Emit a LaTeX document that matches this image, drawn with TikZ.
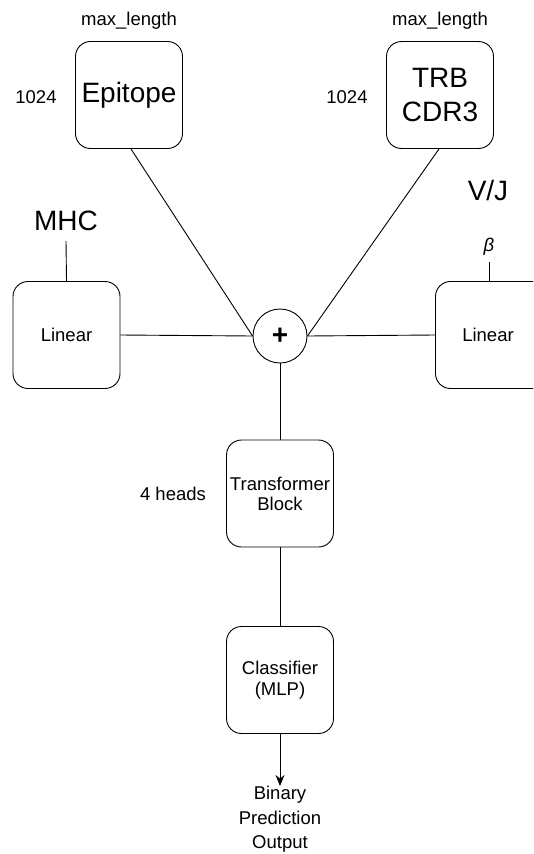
\documentclass[tikz,border=0pt]{standalone}
\usepackage{fontspec}
\setmainfont{Liberation Sans}
\usetikzlibrary{arrows.meta}
\begin{document}
\begin{tikzpicture}[x=1pt,y=-1pt,
  box/.style={draw,line width=0.9pt,rounded corners=15pt,minimum width=107pt,minimum height=107pt,inner sep=0pt,align=center,font=\fontsize{18.5}{21}\selectfont},
  bigbox/.style={box,font=\fontsize{28}{34}\selectfont},
  small/.style={font=\fontsize{18.5}{22}\selectfont,inner sep=0pt,align=center},
  big/.style={font=\fontsize{28}{34}\selectfont,inner sep=0pt},
  conn/.style={line width=0.9pt}]
\useasboundingbox (0,0) rectangle (533,854);
\clip (0,0) rectangle (533,854);
\node[bigbox] (ep) at (129,95) {Epitope};
\node[bigbox] (trb) at (440,95) {TRB\\CDR3};
\node[small] (ml1) at (129,21) {max\_length};
\node[small] (ml2) at (440,21) {max\_length};
\node[small] (n1) at (36,97) {1024};
\node[small] (n2) at (347,97) {1024};
\node[big] (vj) at (488,190) {V/J};
\node[big] (mhc) at (66,221) {MHC};
\node[small] (beta) at (489,247) {\itshape β};
\node[box] (linL) at (66.5,335) {Linear};
\node[box,minimum width=120pt] (linR) at (495.5,335) {};
\node[small] (linRt) at (488,335) {Linear};
\node[draw,circle,line width=0.9pt,minimum size=54pt,inner sep=0pt,font=\fontsize{28}{30}\selectfont\bfseries] (plus) at (280,336) {+};
\node[box,font=\fontsize{18.5}{20}\selectfont] (tb) at (280,493.5) {Transformer\\Block};
\node[small] (heads) at (173,494) {4 heads};
\node[box] (cls) at (280,680) {Classifier\\(MLP)};
\node[small,font=\fontsize{18.5}{24.5}\selectfont,anchor=north] (out) at (280,786) {Binary\\Prediction\\Output};
\coordinate (mhcb) at (66,241);
\coordinate (betab) at (489,262);
\draw[conn] (mhcb) -- (linL.north);
\draw[conn] (betab) -- (betab |- linR.north);
\draw[conn] (ep.south) ++(2,0) coordinate (eps) -- (plus.west);
\draw[conn] (trb.south) ++(-1,0) coordinate (trbs) -- (plus.east);
\draw[conn] (linL.east) -- (plus.west);
\draw[conn] (plus.east) -- (linR.west);
\draw[conn] (plus.south) -- (tb.north);
\draw[conn] (tb.south) -- (cls.north);
\draw[conn,-{Stealth[length=11pt,width=9pt]}] (cls.south) -- (out.north);
\end{tikzpicture}
\end{document}
